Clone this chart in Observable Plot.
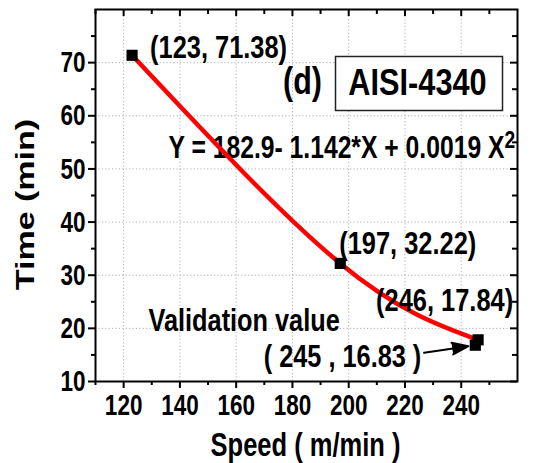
<!DOCTYPE html>
<html>
<head>
<meta charset="utf-8">
<script src="https://cdn.jsdelivr.net/npm/d3@7"></script>
<script src="https://cdn.jsdelivr.net/npm/@observablehq/plot@0.6"></script>
<style>
  html, body { margin: 0; padding: 0; background: #fff; }
  #chart svg { display: block; }
</style>
</head>
<body>
<div id="chart"></div>
<script>
// ---- data ----
const SPEED = [123, 197, 246];
const TIME = [71.38, 32.22, 17.84];
const POINT_LABELS = ["(123, 71.38)", "(197, 32.22)", "(246, 17.84)"];
const VALID_SPEED = [245];
const VALID_TIME = [16.83];
const VALID_LABEL = ["( 245 , 16.83 )"];
const X_TICKS = [120, 140, 160, 180, 200, 220, 240];
const X_MINOR = [110, 130, 150, 170, 190, 210, 230, 250];
const Y_TICKS = [10, 20, 30, 40, 50, 60, 70];
const Y_MINOR = [15, 25, 35, 45, 55, 65, 75];
const X_TITLE = "Speed ( m/min )";
const Y_TITLE = "Time (min)";
const PANEL = "(d)";
const MATERIAL = "AISI-4340";
const EQUATION = "Y = 182.9- 1.142*X + 0.0019 X";
const EQ_POWER = "2";
const VALID_TEXT = "Validation value";
const ARROW_FROM = {x: 226.8, y: 15.4}; // annotation anchor (tail of arrow)

const pts = SPEED.map((x, i) => ({x, y: TIME[i], label: POINT_LABELS[i]}));
const valid = VALID_SPEED.map((x, i) => ({x, y: VALID_TIME[i], label: VALID_LABEL[i]}));

const W = 544, H = 463;
const M = {top: 9, right: 27, bottom: 82, left: 95};
const PW = W - M.left - M.right, PH = H - M.top - M.bottom;
const FONT = "'Liberation Sans', Arial, sans-serif";
const txt = {fontFamily: FONT, fontWeight: "bold", fill: "black"};

// font sizes (each one also selects the horizontal condensing below)
const FS_TICK = 30, FS_LABEL = 31, FS_VALID = 30.5, FS_EQ = 32, FS_SUP = 24, FS_PANEL = 38, FS_MAT = 37, FS_TITLE = 34;
const CONDENSE = {[FS_TICK]: 0.75, [FS_LABEL]: 0.82, [FS_VALID]: 0.83, [FS_EQ]: 0.772, [FS_SUP]: 0.8, [FS_PANEL]: 0.8, [FS_MAT]: 0.83, [FS_TITLE]: 0.75};

const svg = Plot.plot({
  width: W, height: H,
  marginTop: M.top, marginRight: M.right, marginBottom: M.bottom, marginLeft: M.left,
  style: {fontFamily: FONT, fontWeight: "bold", background: "white", color: "black"},
  x: {domain: [110, 260]},
  y: {domain: [10, 80]},
  marks: [
    Plot.gridX(X_TICKS, {stroke: "#b0b0b0", strokeOpacity: 1, strokeDasharray: "1.2,2.2", strokeWidth: 1}),
    Plot.gridY(Y_TICKS.slice(1), {stroke: "#b0b0b0", strokeOpacity: 1, strokeDasharray: "1.2,2.2", strokeWidth: 1}),
    // inward ticks on top and right
    Plot.tickX(X_TICKS, {x: d => d, insetBottom: PH - 7, stroke: "black", strokeWidth: 2}),
    Plot.tickX(X_MINOR, {x: d => d, insetBottom: PH - 5, stroke: "black", strokeWidth: 2}),
    Plot.tickY(Y_TICKS, {y: d => d, insetLeft: PW - 7, stroke: "black", strokeWidth: 2}),
    Plot.tickY(Y_MINOR, {y: d => d, insetLeft: PW - 5, stroke: "black", strokeWidth: 2}),
    // outward axes
    Plot.axisX(X_TICKS, {anchor: "bottom", tickSize: 7, tickPadding: 5, strokeWidth: 2, fontSize: FS_TICK, ...txt, label: null}),
    Plot.axisX(X_MINOR, {anchor: "bottom", tickSize: 4, strokeWidth: 2, tickFormat: () => "", label: null}),
    Plot.axisY(Y_TICKS, {anchor: "left", tickSize: 7, tickPadding: 3, strokeWidth: 2, fontSize: FS_TICK, ...txt, label: null}),
    Plot.axisY(Y_MINOR, {anchor: "left", tickSize: 4, strokeWidth: 2, tickFormat: () => "", label: null}),
    Plot.frame({stroke: "black", strokeWidth: 2}),
    // titles
    Plot.text([X_TITLE], {frameAnchor: "bottom", text: d => d, dx: 305 - (M.left + PW / 2), dy: 445 - (H - M.bottom), textAnchor: "middle", lineAnchor: "middle", fontSize: FS_TITLE, ...txt}),
    Plot.text([Y_TITLE], {frameAnchor: "left", text: d => d, rotate: -90, dx: 25 - M.left, dy: 204 - (M.top + PH / 2), textAnchor: "middle", lineAnchor: "middle", fontSize: FS_TITLE, ...txt}),
    // annotations
    Plot.text([EQUATION], {frameAnchor: "top-left", text: d => d, dx: 73, dy: 138, textAnchor: "start", lineAnchor: "middle", fontSize: FS_EQ, ...txt}),
    Plot.text([EQ_POWER], {frameAnchor: "top-left", text: d => d, dx: 409, dy: 131, textAnchor: "start", lineAnchor: "middle", fontSize: FS_SUP, ...txt}),
    Plot.text([PANEL], {frameAnchor: "top-left", text: d => d, dx: 207, dy: 72, textAnchor: "middle", lineAnchor: "middle", fontSize: FS_PANEL, ...txt}),
    Plot.frame({insetLeft: 240, insetRight: 15, insetTop: 47, insetBottom: 271, stroke: "#222", strokeWidth: 1.5, fill: "white"}),
    Plot.text([MATERIAL], {frameAnchor: "top-left", text: d => d, dx: 322, dy: 74, textAnchor: "middle", lineAnchor: "middle", fontSize: FS_MAT, ...txt}),
    Plot.text([VALID_TEXT], {frameAnchor: "top-left", text: d => d, dx: 53, dy: 312, textAnchor: "start", lineAnchor: "middle", fontSize: FS_VALID, ...txt}),
    // fitted curve and points
    Plot.line(pts, {x: "x", y: "y", curve: "natural", stroke: "red", strokeWidth: 4.5}),
    Plot.dot(pts, {x: "x", y: "y", symbol: "square", r: 6.3, fill: "black", stroke: "none"}),
    Plot.dot(valid, {x: "x", y: "y", symbol: "square", r: 6.3, fill: "black", stroke: "none"}),
    Plot.arrow(valid, {x1: () => ARROW_FROM.x, y1: () => ARROW_FROM.y, x2: "x", y2: "y", insetEnd: 7, stroke: "black", fill: "black", strokeWidth: 2, headLength: 16, headAngle: 40}),
    // point labels
    Plot.text(pts.slice(0, 1), {x: "x", y: "y", text: "label", dx: 18, dy: -7, textAnchor: "start", lineAnchor: "middle", fontSize: FS_LABEL, ...txt}),
    Plot.text(pts.slice(1, 2), {x: "x", y: "y", text: "label", dx: -1, dy: -19, textAnchor: "start", lineAnchor: "middle", fontSize: FS_LABEL, ...txt}),
    Plot.text(pts.slice(2, 3), {x: "x", y: "y", text: "label", dx: 35, dy: -39, textAnchor: "end", lineAnchor: "middle", fontSize: FS_LABEL, ...txt}),
    Plot.text(valid, {x: "x", y: "y", text: "label", dx: -54, dy: 12, textAnchor: "end", lineAnchor: "middle", fontSize: FS_VALID, ...txt})
  ]
});

// the reference's lettering is horizontally condensed
svg.querySelectorAll("text").forEach(t => {
  const tr = t.getAttribute("transform");
  if (!tr) return;
  const host = t.closest("[font-size]");
  const fs = host ? parseFloat(host.getAttribute("font-size")) : NaN;
  const sq = CONDENSE[fs] ?? 0.8;
  t.setAttribute("transform", tr + (tr.includes("rotate") ? ` scale(1,${sq})` : ` scale(${sq},1)`));
});

document.getElementById("chart").appendChild(svg);
</script>
</body>
</html>
